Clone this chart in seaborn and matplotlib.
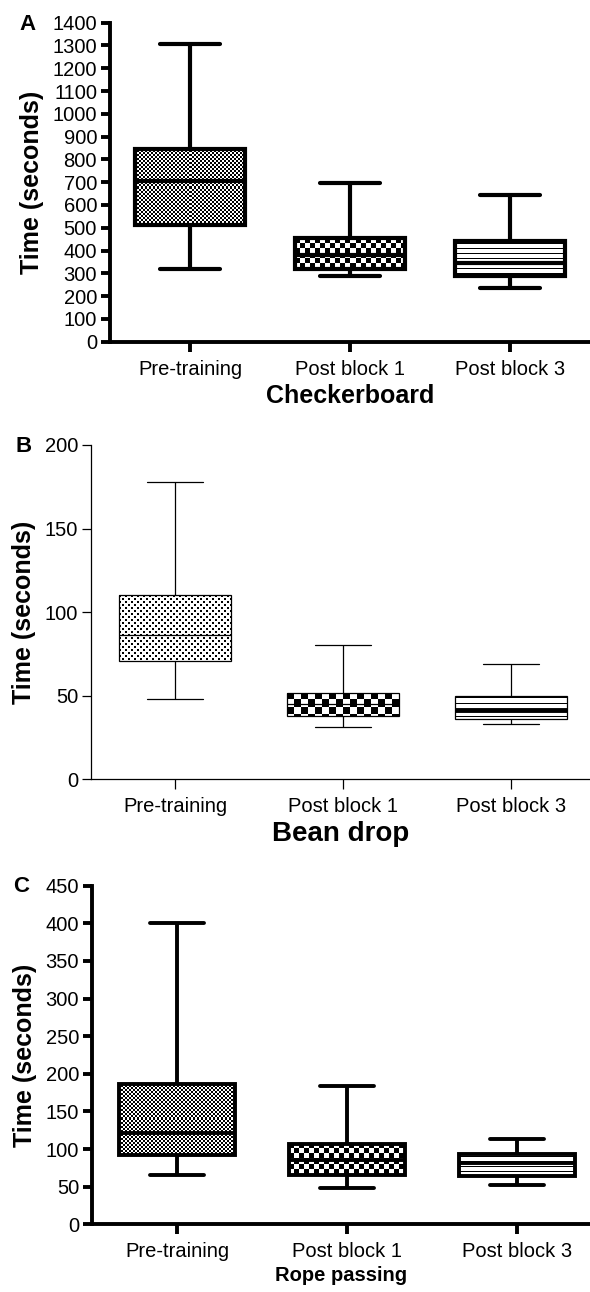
import numpy as np
import pandas as pd
import seaborn as sns
import matplotlib
matplotlib.use('Agg')
import matplotlib.pyplot as plt

groups = ['Pre-training', 'Post block 1', 'Post block 3']

# five-number summaries: min, q1, median, q3, max
checker_pre = [320, 510, 705, 845, 1305]
checker_pb1 = [288, 318, 380, 454, 695]
checker_pb3 = [234, 290, 345, 443, 643]

bean_pre = [47.8, 70.8, 86.3, 110.2, 178]
bean_pb1 = [31.1, 37.9, 45, 51.8, 80.3]
bean_pb3 = [33.1, 36.1, 41.3, 50, 69]

rope_pre = [65, 92, 122, 186.5, 401]
rope_pb1 = [48.7, 65.5, 86, 106.7, 183.8]
rope_pb3 = [52.2, 64.2, 81.5, 93.4, 113]

checker_ticks = [0, 100, 200, 300, 400, 500, 600, 700, 800, 900, 1000, 1100, 1200, 1300, 1400]
bean_ticks = [0, 50, 100, 150, 200]
rope_ticks = [0, 50, 100, 150, 200, 250, 300, 350, 400, 450]

W, H = 590, 1292

sns.set_style('ticks')
plt.rcParams['font.family'] = ['Liberation Sans', 'DejaVu Sans']
plt.rcParams['text.color'] = 'black'
plt.rcParams['axes.labelcolor'] = 'black'
plt.rcParams['xtick.color'] = 'black'
plt.rcParams['ytick.color'] = 'black'


def long_form(pre, pb1, pb3):
    return pd.DataFrame({'group': np.repeat(groups, 5), 'time': list(pre) + list(pb1) + list(pb3)})


def texture(kind, h, w):
    i, j = np.mgrid[0:h, 0:w]
    if kind == 'fine':
        dark = (i // 2 + j // 2) % 2 == 0
    elif kind == 'dots':
        dark = ((i % 6 < 2) & (j % 6 < 2)) | (((i + 3) % 6 < 2) & ((j + 3) % 6 < 2))
    elif kind.startswith('checker'):
        c = int(kind[7:])
        dark = (i // c + j // c) % 2 == 0
    else:  # horizontal lines
        p = int(kind[5:])
        dark = (i % p == 2) & (j >= 0)
    return np.where(dark, 0.0, 1.0)


def fill_box(ax, patch, kind):
    ext = patch.get_path().get_extents()
    (x0, y0), (x1, y1) = ax.transData.transform([[ext.x0, ext.y0], [ext.x1, ext.y1]])
    w = max(int(round(x1 - x0)), 1)
    h = max(int(round(y1 - y0)), 1)
    img = ax.imshow(texture(kind, h, w), cmap='gray', vmin=0, vmax=1,
                    extent=(ext.x0, ext.x1, ext.y0, ext.y1),
                    interpolation='nearest', aspect='auto', zorder=2.02)
    img.set_clip_path(patch)
    patch.set_facecolor('none')
    patch.set_zorder(2.05)


def panel(fig, box_px, data, lw, width, capw, top, ticks, xlabel, xl_size, kinds,
          spine_lw, ypad, xpad):
    left, right, ytop, ybot, step = box_px
    ax = fig.add_axes([left / W, 1 - ybot / H, (right - left) / W, (ybot - ytop) / H])
    xmax = -0.5 + (right - left) / step
    sns.boxplot(data=data, x='group', y='time', order=groups, ax=ax, color='white',
                linecolor='black', linewidth=lw, width=width, whis=(0, 100),
                saturation=1, capwidths=capw)
    ax.set_xlim(-0.5, xmax)
    ax.set_ylim(0, top)
    for patch, kind in zip(ax.patches, kinds):
        fill_box(ax, patch, kind)
    ax.set_xlim(-0.5, xmax)
    ax.set_ylim(0, top)
    ax.set_yticks(ticks)
    ax.set_yticklabels([str(t) for t in ticks])
    for s in ['top', 'right']:
        ax.spines[s].set_visible(False)
    for s in ['left', 'bottom']:
        ax.spines[s].set_linewidth(spine_lw)
        ax.spines[s].set_color('black')
    ax.tick_params(axis='both', labelsize=14.5, width=spine_lw, pad=3)
    ax.tick_params(axis='y', length=6.3)
    ax.tick_params(axis='x', length=7, pad=6)
    ax.set_ylabel('Time (seconds)', fontsize=18, fontweight='bold', labelpad=ypad)
    ax.set_xlabel(xlabel, fontsize=xl_size, fontweight='bold', labelpad=xpad)
    return ax


fig = plt.figure(figsize=(W / 100, H / 100), dpi=100)

ax_a = panel(fig, (110, 590, 22.7, 341.7, 160), long_form(checker_pre, checker_pb1, checker_pb3),
             3.0, 0.69, 0.375, 1400, checker_ticks, 'Checkerboard', 18,
             ['fine', 'checker5', 'lines5'], 2.8, 6, 4)
ax_b = panel(fig, (91, 590, 445, 779.3, 168), long_form(bean_pre, bean_pb1, bean_pb3),
             0.9, 0.67, 0.33, 200, bean_ticks, 'Bean drop', 20,
             ['dots', 'checker7', 'lines6'], 0.9, 6, 3)
ax_c = panel(fig, (92, 590, 885.7, 1224.3, 170), long_form(rope_pre, rope_pb1, rope_pb3),
             2.8, 0.68, 0.32, 450, rope_ticks, 'Rope passing', 14.5,
             ['fine', 'checker5', 'lines5'], 2.8, 6, 3)

# thicker median on the striped Bean drop box
for line in ax_b.lines:
    x, y = np.asarray(line.get_xdata(), float), np.asarray(line.get_ydata(), float)
    if len(y) == 2 and np.allclose(y, bean_pb3[2]) and abs(x.mean() - 2) < 0.05:
        line.set_linewidth(3.5)

for letter, (px, py) in zip('ABC', [(27, 24), (24, 447), (21, 887)]):
    fig.text(px / W, 1 - py / H, letter, fontsize=16, fontweight='bold', ha='center', va='center')

fig.savefig('out.png', dpi=100)
